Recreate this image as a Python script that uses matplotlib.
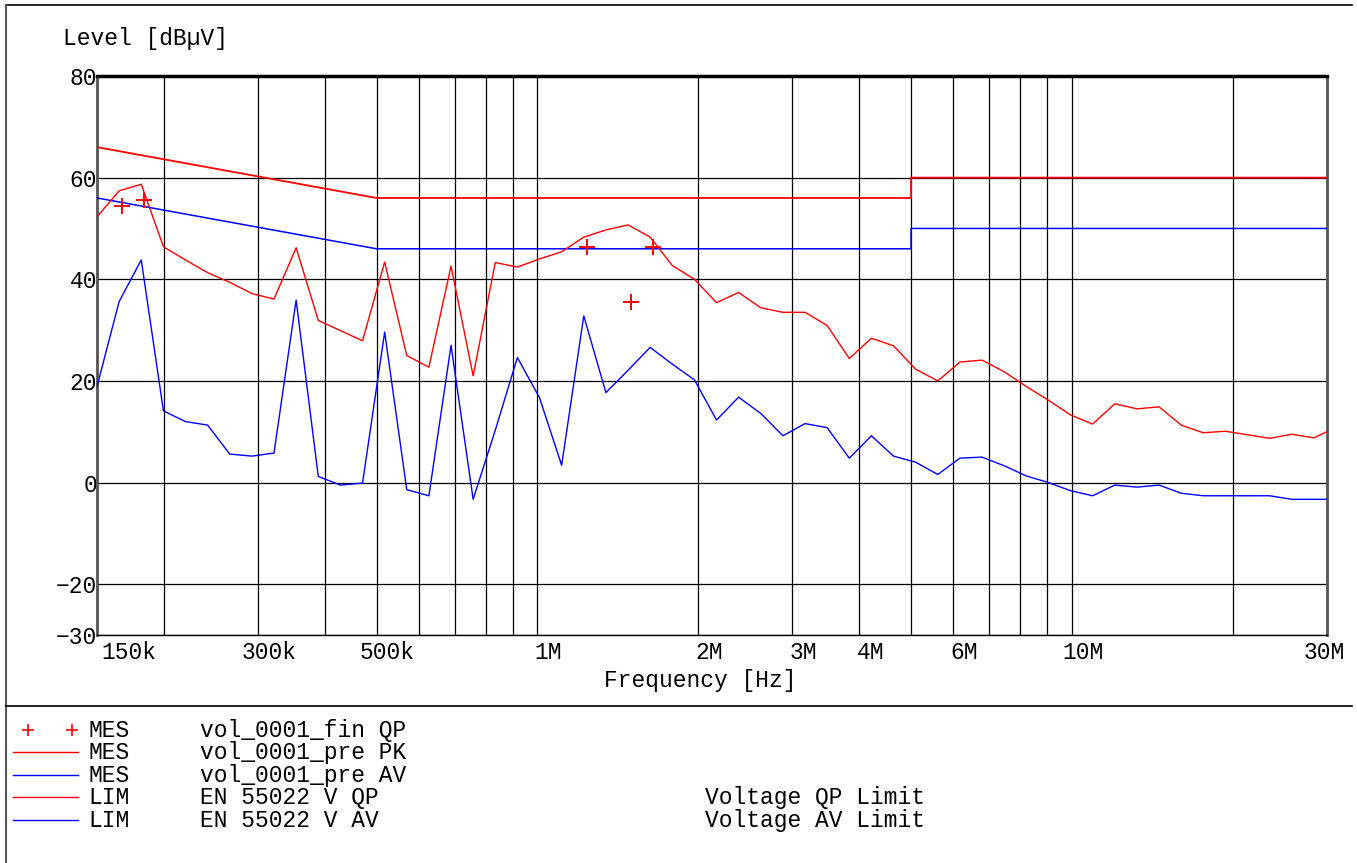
import matplotlib
matplotlib.use("Agg")
import matplotlib.pyplot as plt
from matplotlib.lines import Line2D
from matplotlib.transforms import blended_transform_factory, offset_copy

# scan frequencies (kHz)
freq_khz = [150, 165, 181.5, 199.7, 219.6, 241.6, 265.7, 292.3, 321.5, 353.7,
            389.1, 428.0, 470.8, 517.9, 569.6, 626.6, 689.3, 758.2, 834.0, 917.4,
            1009, 1110, 1221, 1343, 1478, 1625, 1788, 1967, 2163, 2379,
            2617, 2879, 3167, 3484, 3832, 4215, 4637, 5101, 5611, 6172,
            6789, 7468, 8214, 9036, 9939, 10933, 12027, 13230, 14553, 16008,
            17609, 19370, 21307, 23437, 25781, 28359, 30000]

# peak pre-scan (dBuV)
pk_level = [52.3, 57.4, 58.7, 46.4, 43.8, 41.3, 39.4, 37.2, 36.1, 46.2,
            31.9, 29.9, 27.9, 43.4, 25.0, 22.7, 42.6, 21.0, 43.3, 42.4,
            44.0, 45.4, 48.3, 49.7, 50.7, 48.3, 42.7, 40.0, 35.4, 37.4,
            34.4, 33.5, 33.5, 30.9, 24.4, 28.4, 26.9, 22.3, 20.0, 23.7,
            24.1, 21.8, 18.9, 16.2, 13.3, 11.5, 15.5, 14.5, 14.9, 11.3,
            9.8, 10.1, 9.4, 8.7, 9.5, 8.8, 10.0]

# average pre-scan (dBuV)
av_level = [18.9, 35.6, 43.8, 14.1, 12.0, 11.3, 5.6, 5.2, 5.8, 35.9,
            1.2, -0.5, -0.1, 29.6, -1.4, -2.6, 27.0, -3.3, 10.3, 24.6,
            16.7, 3.4, 32.8, 17.7, 22.1, 26.6, 23.3, 20.2, 12.3, 16.8,
            13.6, 9.2, 11.6, 10.8, 4.8, 9.2, 5.2, 4.0, 1.6, 4.8,
            5.0, 3.3, 1.3, 0.0, -1.6, -2.6, -0.5, -0.9, -0.5, -2.1,
            -2.6, -2.6, -2.6, -2.6, -3.3, -3.3, -3.3]

# final QP measurements
qp_freq_khz = [167, 184, 1237, 1497, 1648]
qp_level = [54.4, 55.6, 46.4, 35.6, 46.4]

# EN 55022 class B limits
lim_freq_khz = [150, 500, 5000, 5000, 30000]
lim_qp = [66, 56, 56, 60, 60]
lim_av = [56, 46, 46, 50, 50]

grid_freq_khz = [200, 300, 400, 500, 600, 700, 800, 900, 1000,
                 2000, 3000, 4000, 5000, 6000, 7000, 8000, 9000, 10000, 20000]
xlabel_freq_khz = [150, 300, 500, 1000, 2000, 3000, 4000, 6000, 10000, 30000]
xlabel_text = ["150k", "300k", "500k", "1M", "2M", "3M", "4M", "6M", "10M", "30M"]
ytick_vals = [-30, -20, 0, 20, 40, 60, 80]
ytick_text = ["\u221230", "\u221220", "0", "20", "40", "60", "80"]

FONT = "Liberation Mono"
FS = 16.5
W, H = 1357, 863

fig = plt.figure(figsize=(W / 100, H / 100), dpi=100)
fig.patch.set_facecolor("white")


def fx(px):
    return px / W


def fy(py):
    return 1 - py / H


ax = fig.add_axes([fx(97), fy(635), fx(1327) - fx(97), fy(76) - fy(635)])

f_hz = [f * 1e3 for f in freq_khz]
ax.plot([f * 1e3 for f in lim_freq_khz], lim_qp, color="#ff0000", lw=1.3, zorder=3)
ax.plot([f * 1e3 for f in lim_freq_khz], lim_av, color="#0000ff", lw=1.1, zorder=3)
ax.plot(f_hz, pk_level, color="#ff0000", lw=1.0, zorder=3)
ax.plot(f_hz, av_level, color="#0000ff", lw=1.0, zorder=3)
ax.plot([f * 1e3 for f in qp_freq_khz], qp_level, ls="none", marker="+",
        ms=11, mew=1.4, color="#ff0000", zorder=4)

ax.set_xscale("log")
ax.set_xlim(150e3, 30e6)
ax.set_ylim(-30, 80)
ax.set_xticks([f * 1e3 for f in grid_freq_khz])
ax.set_xticks([], minor=True)
ax.set_xticklabels([])
ax.set_yticks(ytick_vals)
ax.set_yticklabels(ytick_text, fontfamily=FONT, fontsize=FS)
ax.tick_params(axis="both", length=0)
ax.tick_params(axis="y", pad=0)
ax.grid(True, color="black", lw=0.9)
ax.set_axisbelow(True)

for side, lw, col in [("top", 2.5, "black"), ("left", 2.0, "#555555"),
                      ("right", 2.0, "#555555"), ("bottom", 1.0, "black")]:
    ax.spines[side].set_linewidth(lw)
    ax.spines[side].set_color(col)

# frequency labels, nudged right like the original
trans = blended_transform_factory(ax.transData, ax.transAxes)
for f, t in zip(xlabel_freq_khz, xlabel_text):
    if t == "150k":
        ha, dx = "left", 4
    elif t == "30M":
        ha, dx = "right", 18
    else:
        ha, dx = "center", 11
    ax.text(f * 1e3, -0.032, t, transform=offset_copy(trans, fig=fig, x=dx, y=0, units="dots"),
            ha=ha, va="center", fontfamily=FONT, fontsize=FS, clip_on=False)

fig.text(fx(700), fy(681), "Frequency [Hz]", ha="center", va="center",
         fontfamily=FONT, fontsize=FS)
fig.text(fx(63), fy(38), "Level [dB\u00b5V]", ha="left", va="center",
         fontfamily=FONT, fontsize=FS)

# outer frame and separator
fig.add_artist(Line2D([fx(6), fx(1352)], [fy(5), fy(5)], color="black", lw=1.2))
fig.add_artist(Line2D([fx(6), fx(6)], [fy(5), fy(863)], color="#555555", lw=1.5))
fig.add_artist(Line2D([fx(6), fx(1352)], [fy(706), fy(706)], color="black", lw=1.2))

# legend block
rows_y = [730, 752, 775, 797, 820]
col1 = ["MES", "MES", "MES", "LIM", "LIM"]
col2 = ["vol_0001_fin QP", "vol_0001_pre PK", "vol_0001_pre AV",
        "EN 55022 V QP", "EN 55022 V AV"]
col3 = ["", "", "", "Voltage QP Limit", "Voltage AV Limit"]
row_color = ["#ff0000", "#ff0000", "#0000ff", "#ff0000", "#0000ff"]

for i, y in enumerate(rows_y):
    if i == 0:
        fig.add_artist(Line2D([fx(28), fx(72)], [fy(y), fy(y)], ls="none", marker="+",
                              ms=9, mew=1.2, color=row_color[i]))
    else:
        fig.add_artist(Line2D([fx(13), fx(78)], [fy(y), fy(y)], color=row_color[i], lw=1.0))
    fig.text(fx(88), fy(y), col1[i], ha="left", va="center", fontfamily=FONT, fontsize=FS)
    fig.text(fx(200), fy(y), col2[i], ha="left", va="center", fontfamily=FONT, fontsize=FS)
    if col3[i]:
        fig.text(fx(705), fy(y), col3[i], ha="left", va="center", fontfamily=FONT, fontsize=FS)

fig.savefig("out.png", dpi=100)
